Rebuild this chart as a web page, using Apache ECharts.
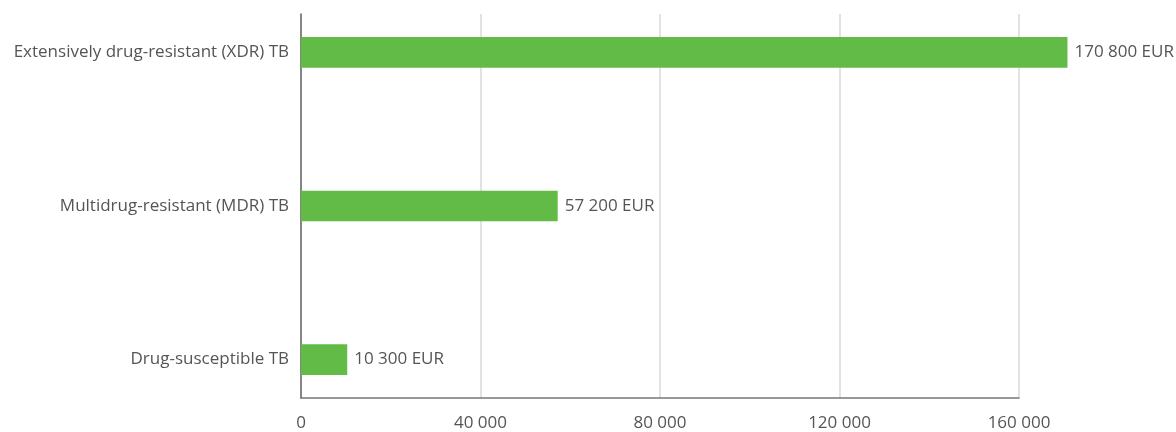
<!DOCTYPE html>
<html>
<head>
<meta charset="utf-8">
<script src="https://cdn.jsdelivr.net/npm/echarts@6/dist/echarts.min.js"></script>
<style>
  html, body { margin: 0; padding: 0; background: #fff; }
  #chart { width: 1176px; height: 432px; }
</style>
</head>
<body>
<div id="chart"></div>
<script>
// categories, bottom to top
var categories = ['Drug-susceptible TB', 'Multidrug-resistant (MDR) TB', 'Extensively drug-resistant (XDR) TB'];
var costs = [10300, 57200, 170800];
var xTicks = [0, 40000, 80000, 120000, 160000];

var fmt = function(v){
    return String(v).replace(/\B(?=(\d{3})+(?!\d))/g, ' ');
};

var barData = [];
for (var i = 0; i < costs.length; i++) {
    barData.push([costs[i], i]);
}

var myChart = echarts.init(document.getElementById('chart'));

var option = {
    animation: false,
    textStyle: { fontFamily: 'Open Sans' },
    grid: { left: 301, right: 157, top: 14, bottom: 32 },
    xAxis: {
        type: 'value',
        min: xTicks[0],
        max: xTicks[xTicks.length - 1],
        interval: 40000,
        axisLine: { show: true, onZero: false, lineStyle: { color: '#777', width: 1.5 } },
        axisTick: { show: false },
        splitLine: { show: true, lineStyle: { color: '#d9d9d9', width: 1.5 } },
        axisLabel: {
            margin: 17,
            color: '#555',
            fontSize: 17,
            formatter: fmt
        }
    },
    yAxis: {
        type: 'value',
        min: -0.25,
        max: 2.25,
        axisLine: { show: true, onZero: false, lineStyle: { color: '#666', width: 1.5 } },
        axisTick: { show: false },
        splitLine: { show: false },
        axisLabel: {
            customValues: [0, 1, 2],
            margin: 12,
            color: '#555',
            fontSize: 17,
            formatter: function(v){ return categories[Math.round(v)]; }
        }
    },
    series: [{
        type: 'custom',
        clip: false,
        data: barData,
        renderItem: function(params, api){
            var start = api.coord([0, api.value(1)]);
            var end = api.coord([api.value(0), api.value(1)]);
            var h = api.size([0, 0.2])[1];
            return {
                type: 'group',
                children: [{
                    type: 'rect',
                    shape: { x: start[0], y: start[1] - h / 2, width: end[0] - start[0], height: h },
                    style: { fill: '#62bb46' }
                }, {
                    type: 'text',
                    x: end[0] + 7,
                    y: end[1],
                    style: {
                        text: fmt(api.value(0)) + ' EUR',
                        fill: '#555',
                        font: '17px "Open Sans"',
                        verticalAlign: 'middle',
                        align: 'left'
                    }
                }]
            };
        }
    }]
};

myChart.setOption(option);
</script>
</body>
</html>
